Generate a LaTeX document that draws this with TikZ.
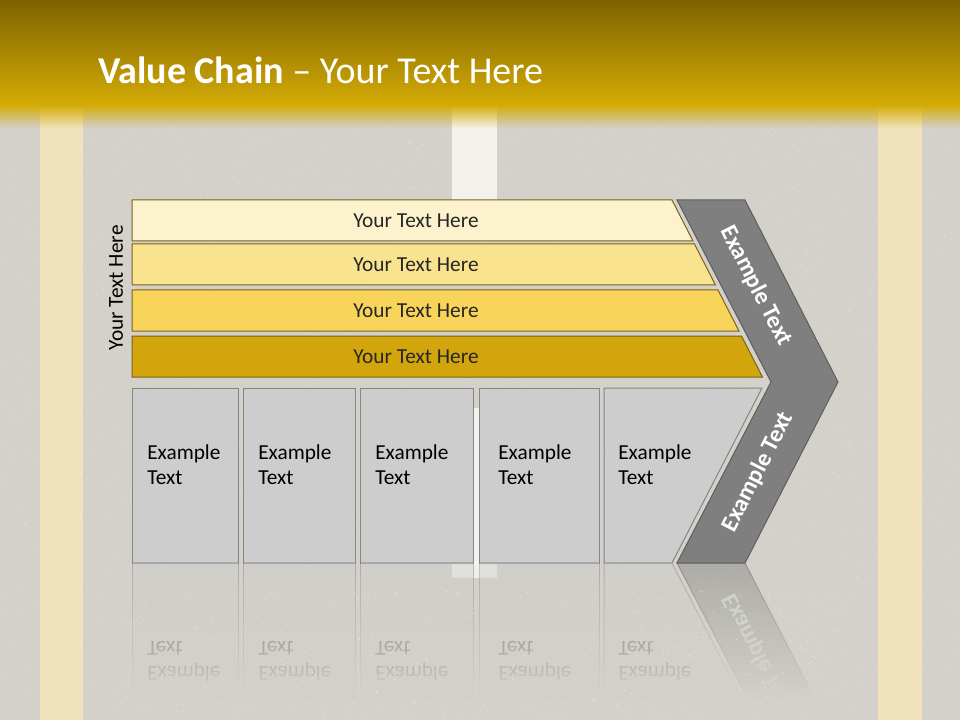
\documentclass[tikz,border=0pt]{standalone}
\usepackage{fontspec}
\setmainfont{Carlito}
\usetikzlibrary{fadings}
\definecolor{roadgray}{HTML}{D3D1C9}
\definecolor{laneyellow}{HTML}{F0E2BA}
\definecolor{lanewhite}{HTML}{F4F2EC}
\definecolor{bannertop}{HTML}{7E6200}
\definecolor{bannerbot}{HTML}{D5AC06}
\definecolor{barA}{HTML}{FDF2CE}
\definecolor{barB}{HTML}{F9E38F}
\definecolor{barC}{HTML}{F8D45A}
\definecolor{barD}{HTML}{D3A50C}
\definecolor{barline}{HTML}{7A6218}
\definecolor{cellfill}{HTML}{CDCDCD}
\definecolor{cellline}{HTML}{858585}
\definecolor{chevgray}{HTML}{7F7F7F}
\definecolor{chevline}{HTML}{5E5E5E}
\tikzfading[name=fadedown, top color=transparent!100, bottom color=transparent!0]
\tikzfading[name=fadeup, top color=transparent!0, bottom color=transparent!100]
\begin{document}
\begin{tikzpicture}[x=0.75pt,y=-0.75pt,
	bar/.style={draw=barline,line width=0.75pt},
	bartext/.style={font=\fontsize{16}{19.2}\selectfont,text=black!85},
	cell/.style={rectangle,draw=cellline,fill=cellfill,line width=0.75pt,anchor=north west,minimum height=131.25pt,inner sep=0pt},
	celltext/.style={font=\fontsize{16}{19.2}\selectfont,align=left,anchor=north west,inner sep=0pt},
	chevron/.style={fill=chevgray,draw=chevline,line width=0.75pt},
	chevtext/.style={font=\fontsize{18}{21.6}\selectfont\bfseries,text=white},
	speck/.style={fill=white,opacity=0.5}]
	
	\useasboundingbox (0,0) rectangle (960,720);
	
	% road
	\fill[roadgray] (0,0) rectangle (960,720);
	\fill[laneyellow] (40,100) rectangle (83,720);
	\fill[laneyellow] (878,100) rectangle (922,720);
	\fill[lanewhite] (452,100) rectangle (497,200);
	\fill[lanewhite] (452,408) rectangle (497,578);
	\pgfmathsetseed{7}
	\foreach \i in {1,...,1400}{
		\fill[speck] ({rnd*960},{120+rnd*600}) circle (0.6);
	};
	
	% banner
	\shade[top color=bannertop,bottom color=bannerbot] (0,0) rectangle (960,106);
	\fill[bannerbot,path fading=fadeup] (0,105) rectangle (960,128);
	\node[font=\fontsize{28.5}{34}\selectfont,text=white,anchor=base west,inner sep=0pt] (title) at (98,84) {\textbf{Value Chain} – Your Text Here};
	
	% layers
	\foreach \t/\c [count=\n] in {200/barA,244/barB,290/barC,336/barD}{
		\draw[bar,fill=\c] (132,\t) -- ({672+0.511*(\t-200)},\t) -- ({672+0.511*(\t+41-200)},\t+41) -- (132,\t+41) -- cycle;
		\node[bartext] (bar\n) at (416,\t+20.5) {Your Text Here};
	};
	\node[bartext,text=black,rotate=90] (side) at (116,288) {Your Text Here};
	
	% chevron
	\draw[chevron] (677,200) -- (745,200) -- (838,382) -- (745,563) -- (677,563) -- (771,382) -- cycle;
	\node[chevtext,rotate=-63] (chevup) at (756,286) {Example Text};
	\node[chevtext,rotate=63] (chevdown) at (758,472) {Example Text};
	
	% activities
	\foreach \x/\w/\p [count=\n] in {132/106/15,243/112/15,360/113/15,479/120/19}{
		\node[cell,minimum width=\w*0.75pt] (cell\n) at (\x,388) {};
		\node[celltext] (label\n) at (\x+\p,444) {Example\\Text};
	};
	\draw[fill=cellfill,draw=cellline,line width=0.75pt] (604,388) -- (762,388) -- (672,563) -- (604,563) -- cycle;
	\node[celltext] (label5) at (618,444) {Example\\Text};
	
	% mirror
	\begin{scope}[shift={(0,1126)},yscale=-1,transform shape,opacity=0.45]
		\foreach \x/\w/\p [count=\n] in {132/106/15,243/112/15,360/113/15,479/120/19}{
			\node[cell,minimum width=\w*0.75pt] (mcell\n) at (\x,388) {};
			\node[celltext] (mlabel\n) at (\x+\p,444) {Example\\Text};
		};
		\draw[fill=cellfill,draw=cellline,line width=0.75pt] (604,388) -- (762,388) -- (672,563) -- (604,563) -- cycle;
		\node[celltext] (mlabel5) at (618,444) {Example\\Text};
		\draw[chevron] (677,563) -- (745,563) -- (838,382) -- (771,382) -- cycle;
		\node[chevtext,rotate=63] (mchevdown) at (758,472) {Example Text};
	\end{scope}
	\fill[roadgray,path fading=fadedown] (125,563) rectangle (850,700);
	\fill[roadgray] (125,699) rectangle (850,720);
	\foreach \i in {1,...,500}{
		\fill[speck] ({125+rnd*725},{590+rnd*130}) circle (0.6);
	};
	
\end{tikzpicture}
\end{document}
